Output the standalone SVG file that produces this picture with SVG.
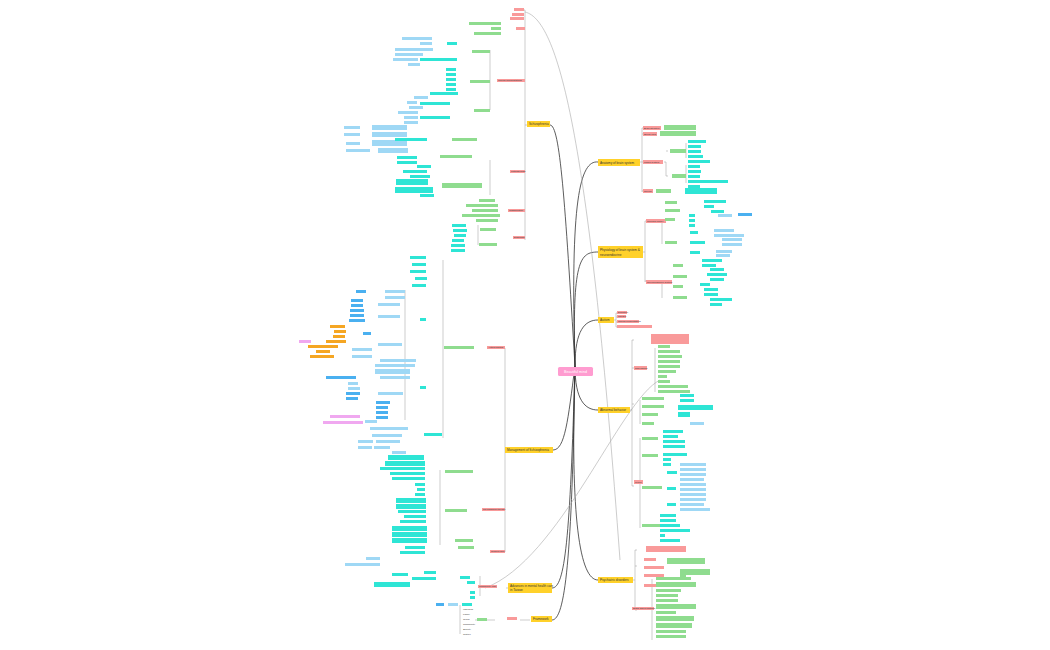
<svg xmlns="http://www.w3.org/2000/svg" width="1050" height="650" viewBox="0 0 1050 650">
<style>
text{font-family:"Liberation Sans",Arial,sans-serif;font-size:2.4px;fill:#333}
.y rect{fill:#ffd12a}.y text{font-size:3.1px}
.r{fill:#f99a9a}.g{fill:#8fdc8f}.c{fill:#2ee5d5}.b{fill:#9fd8f5}.o{fill:#f5a623}.p{fill:#f0a8f0}.bl{fill:#4ab0f0}
.main{fill:none;stroke:#333;stroke-width:0.8}
.br{fill:none;stroke:#999;stroke-width:0.5}
.thin{fill:none;stroke:#aaa;stroke-width:0.6}
</style>
<rect width="1050" height="650" fill="#fff"/>
<g id="connectors">
<path class="main" d="M575 366 C570 200 580 160 598 162"/>
<path class="main" d="M575 366 C572 260 580 252 598 252"/>
<path class="main" d="M575 366 C575 330 585 320 598 320"/>
<path class="main" d="M575 366 C575 400 585 410 598 410"/>
<path class="main" d="M575 366 C570 520 580 580 598 580"/>
<path class="main" d="M575 366 C565 200 560 125 550 125"/>
<path class="main" d="M575 366 C568 420 565 450 553 450"/>
<path class="main" d="M575 366 C570 540 565 588 552 588"/>
<path class="main" d="M575 366 C572 560 565 620 552 620"/>
<path class="thin" d="M525 12 C560 20 590 150 620 560"/>
<path class="thin" d="M485 588 C560 560 620 400 660 380"/>
<path class="br" d="M640 162 h2 M642 128 V192 M642 128 h2 M642 134 h2 M642 162 h2 M642 191 h2"/>
<path class="br" d="M666 162 V176 M664 162 h2 M666 151 h2 M666 176 h2 M686 143 V158 M686 165 V183"/>
<path class="br" d="M643 252 h2 M645 221 V282 M645 221 h2 M645 281 h2 M662 221 V244 M662 282 V298"/>
<path class="br" d="M614 320 h2 M616 313 V327 M616 313 h2 M616 317 h2 M616 322 h2 M616 327 h2"/>
<path class="br" d="M630 410 h2 M632 340 V486 M632 340 h2 M632 368 h2 M632 404 h2 M632 486 h2 M655 348 V392 M640 400 V424 M640 438 V528"/>
<path class="br" d="M633 580 h2 M635 550 V610 M635 550 h2 M635 566 h2 M635 610 h2 M652 579 V640"/>
<path class="br" d="M525 10 V240 M525 125 h3 M522 10 h3 M522 80 h3 M522 172 h3 M522 211 h3 M522 237 h3 M490 50 V110 M490 160 V195 M478 225 V245"/>
<path class="br" d="M505 448 h3 M505 348 V552 M502 348 h3 M502 510 h3 M502 552 h3 M443 260 V438 M440 470 V545 M405 290 V420"/>
<path class="br" d="M506 588 h4 M480 576 V596"/>
<path class="br" d="M520 620 h10 M475 620 h20 M460 605 V634"/>
</g>

<g id="center"><rect x="558" y="367" width="35" height="9" rx="1.5" fill="#ff9cd0"/><text x="575.5" y="373" text-anchor="middle" style="font-size:3.6px;fill:#fff">Beautiful mind</text></g>

<g id="anatomy" class="y"><rect x="598" y="159" width="42" height="7"/><text x="600" y="163.8">Anatomy of brain system</text></g>
<g id="physiology" class="y"><rect x="598" y="246" width="45" height="12"/><text x="600" y="251">Physiology of brain system &amp;</text><text x="600" y="256">neuroendocrine</text></g>
<g id="autism" class="y"><rect x="598" y="317" width="16" height="6"/><text x="600" y="321.2">Autism</text></g>
<g id="abnormal" class="y"><rect x="598" y="407" width="32" height="6"/><text x="600" y="411.2">Abnormal behavior</text></g>
<g id="psychiatric" class="y"><rect x="598" y="577" width="35" height="6"/><text x="600" y="581.2">Psychiatric disorders</text></g>
<g id="schizophrenia" class="y"><rect x="527" y="121" width="23" height="6"/><text x="529" y="125.2">Schizophrenia</text></g>
<g id="management" class="y"><rect x="505" y="447" width="48" height="6"/><text x="507" y="451.2">Management of Schizophrenia</text></g>
<g id="advances" class="y"><rect x="508" y="583" width="44" height="10"/><text x="510" y="587">Advances in mental health care</text><text x="510" y="591">in Taiwan</text></g>
<g id="framework" class="y"><rect x="531" y="616" width="21" height="6"/><text x="533" y="620.2">Framework</text></g>

<g id="anatomy-leaves">
<rect class="r" x="643" y="126" width="18" height="4"/><rect class="r" x="643" y="132" width="14" height="4"/><rect class="r" x="643" y="160" width="20" height="4"/><rect class="r" x="643" y="189" width="10" height="4"/>
<rect class="g" x="664" y="125" width="32" height="5"/><rect class="g" x="660" y="131" width="36" height="5"/><rect class="g" x="670" y="149" width="16" height="4"/><rect class="g" x="672" y="174" width="14" height="4"/><rect class="g" x="656" y="189" width="15" height="4"/>
<rect class="c" x="688" y="140" width="18" height="3"/><rect class="c" x="688" y="145" width="13" height="3"/><rect class="c" x="688" y="150" width="13" height="3"/><rect class="c" x="688" y="155" width="15" height="3"/><rect class="c" x="688" y="160" width="22" height="3"/>
<rect class="c" x="688" y="165" width="12" height="3"/><rect class="c" x="688" y="170" width="13" height="3"/><rect class="c" x="688" y="175" width="12" height="3"/><rect class="c" x="688" y="180" width="40" height="3"/><rect class="c" x="688" y="185" width="12" height="3"/>
<rect class="c" x="685" y="188" width="32" height="6"/>
<text x="644" y="128.8">Brain structure</text><text x="644" y="134.8">Spinal cord</text><text x="644" y="162.8">Limbic system</text><text x="644" y="191.8">Neuron</text>
</g>

<g id="physiology-leaves">
<rect class="r" x="646" y="219" width="20" height="4"/><rect class="r" x="646" y="280" width="26" height="4"/>
<rect class="g" x="665" y="201" width="12" height="3"/><rect class="g" x="665" y="209" width="15" height="3"/><rect class="g" x="665" y="218" width="10" height="3"/><rect class="g" x="665" y="241" width="12" height="3"/>
<rect class="g" x="673" y="264" width="10" height="3"/><rect class="g" x="673" y="275" width="14" height="3"/><rect class="g" x="673" y="285" width="10" height="3"/><rect class="g" x="673" y="296" width="14" height="3"/>
<rect class="c" x="704" y="200" width="22" height="3"/><rect class="c" x="704" y="205" width="10" height="3"/><rect class="c" x="711" y="210" width="13" height="3"/><rect class="c" x="689" y="214" width="6" height="3"/><rect class="b" x="718" y="214" width="14" height="3"/><rect class="bl" x="738" y="213" width="14" height="3"/>
<rect class="c" x="689" y="219" width="6" height="3"/><rect class="c" x="689" y="224" width="6" height="3"/>
<rect class="c" x="690" y="231" width="8" height="3"/><rect class="c" x="690" y="241" width="15" height="3"/><rect class="c" x="690" y="251" width="10" height="3"/>
<rect class="b" x="714" y="229" width="20" height="3"/><rect class="b" x="714" y="234" width="30" height="3"/><rect class="b" x="722" y="238" width="20" height="3"/><rect class="b" x="722" y="243" width="20" height="3"/><rect class="b" x="716" y="250" width="16" height="3"/><rect class="b" x="716" y="254" width="14" height="3"/>
<rect class="c" x="702" y="259" width="20" height="3"/><rect class="c" x="702" y="264" width="14" height="3"/><rect class="c" x="710" y="268" width="14" height="3"/><rect class="c" x="707" y="273" width="20" height="3"/><rect class="c" x="710" y="278" width="14" height="3"/>
<rect class="c" x="700" y="283" width="10" height="3"/><rect class="c" x="704" y="288" width="14" height="3"/><rect class="c" x="704" y="293" width="14" height="3"/><rect class="c" x="710" y="298" width="22" height="3"/><rect class="c" x="710" y="303" width="12" height="3"/>
<text x="647" y="221.8">Cerebral cortex</text><text x="647" y="282.8">Neuroendocrine system</text>
</g>

<g id="autism-leaves">
<rect class="r" x="617" y="311" width="10" height="3"/><rect class="r" x="617" y="315" width="9" height="3"/><rect class="r" x="617" y="320" width="22" height="3"/><rect class="r" x="617" y="325" width="35" height="3"/>
<text x="618" y="313.4">Definition</text><text x="618" y="317.4">Causes</text><text x="618" y="322.4">Clinical presentations</text>
</g>

<g id="abnormal-leaves">
<rect class="r" x="651" y="334" width="38" height="10"/><rect class="r" x="634" y="366" width="13" height="4"/><rect class="r" x="634" y="480" width="9" height="4"/>
<rect class="g" x="658" y="345" width="12" height="3"/><rect class="g" x="658" y="350" width="22" height="3"/><rect class="g" x="658" y="355" width="24" height="3"/><rect class="g" x="658" y="360" width="22" height="3"/><rect class="g" x="658" y="365" width="22" height="3"/><rect class="g" x="658" y="370" width="18" height="3"/>
<rect class="g" x="658" y="375" width="9" height="3"/><rect class="g" x="658" y="380" width="12" height="3"/><rect class="g" x="658" y="385" width="30" height="3"/><rect class="g" x="658" y="390" width="32" height="3"/>
<rect class="g" x="642" y="397" width="22" height="3"/><rect class="g" x="642" y="405" width="22" height="3"/><rect class="g" x="642" y="413" width="16" height="3"/><rect class="g" x="642" y="422" width="12" height="3"/>
<rect class="g" x="642" y="437" width="16" height="3"/><rect class="g" x="642" y="454" width="16" height="3"/><rect class="g" x="642" y="486" width="20" height="3"/><rect class="g" x="642" y="524" width="18" height="3"/>
<rect class="c" x="680" y="394" width="14" height="3"/><rect class="c" x="680" y="399" width="14" height="3"/><rect class="c" x="678" y="405" width="35" height="5"/><rect class="c" x="678" y="412" width="12" height="5"/><rect class="b" x="690" y="422" width="14" height="3"/>
<rect class="c" x="663" y="430" width="20" height="3"/><rect class="c" x="663" y="435" width="15" height="3"/><rect class="c" x="663" y="440" width="22" height="3"/><rect class="c" x="663" y="445" width="22" height="3"/>
<rect class="c" x="663" y="453" width="24" height="3"/><rect class="c" x="663" y="458" width="8" height="3"/><rect class="c" x="663" y="463" width="8" height="3"/>
<rect class="c" x="667" y="471" width="10" height="3"/><rect class="c" x="667" y="487" width="9" height="3"/><rect class="c" x="667" y="503" width="9" height="3"/>
<rect class="b" x="680" y="463" width="26" height="3"/><rect class="b" x="680" y="468" width="26" height="3"/><rect class="b" x="680" y="473" width="26" height="3"/><rect class="b" x="680" y="478" width="24" height="3"/><rect class="b" x="680" y="483" width="26" height="3"/><rect class="b" x="680" y="488" width="26" height="3"/><rect class="b" x="680" y="493" width="26" height="3"/><rect class="b" x="680" y="498" width="26" height="3"/><rect class="b" x="680" y="503" width="24" height="3"/><rect class="b" x="680" y="508" width="30" height="3"/>
<rect class="c" x="660" y="514" width="16" height="3"/><rect class="c" x="660" y="519" width="16" height="3"/><rect class="c" x="660" y="524" width="20" height="3"/><rect class="c" x="660" y="529" width="30" height="3"/><rect class="c" x="660" y="534" width="5" height="3"/><rect class="c" x="660" y="539" width="20" height="3"/>
<text x="635" y="368.8">Risk factors</text><text x="635" y="482.8">Types</text>
</g>

<g id="psychiatric-leaves">
<rect class="r" x="646" y="546" width="40" height="6"/><rect class="r" x="644" y="558" width="12" height="3"/><rect class="r" x="644" y="566" width="20" height="3"/><rect class="r" x="644" y="574" width="20" height="3"/><rect class="r" x="644" y="584" width="15" height="3"/><rect class="r" x="632" y="607" width="22" height="3"/>
<rect class="g" x="667" y="558" width="38" height="6"/><rect class="g" x="680" y="569" width="30" height="6"/><rect class="g" x="680" y="575" width="6" height="3"/>
<rect class="g" x="656" y="577" width="35" height="3"/><rect class="g" x="656" y="582" width="40" height="5"/><rect class="g" x="656" y="589" width="25" height="3"/><rect class="g" x="656" y="594" width="22" height="3"/><rect class="g" x="656" y="599" width="22" height="3"/><rect class="g" x="656" y="604" width="40" height="5"/>
<rect class="g" x="656" y="611" width="20" height="3"/><rect class="g" x="656" y="616" width="38" height="5"/><rect class="g" x="656" y="623" width="36" height="5"/><rect class="g" x="656" y="630" width="30" height="3"/><rect class="g" x="656" y="635" width="30" height="3"/>
<text x="633" y="609.4">Signs and symptoms</text>
</g>

<g id="schizophrenia-leaves">
<rect class="r" x="514" y="8" width="10" height="3"/><rect class="r" x="512" y="13" width="12" height="3"/><rect class="r" x="510" y="17" width="14" height="3"/>
<rect class="g" x="469" y="22" width="32" height="3"/><rect class="g" x="491" y="27" width="10" height="3"/><rect class="g" x="474" y="32" width="27" height="3"/><rect class="r" x="516" y="27" width="9" height="3"/>
<rect class="g" x="472" y="50" width="18" height="3"/><rect class="g" x="470" y="80" width="20" height="3"/><rect class="g" x="474" y="109" width="16" height="3"/><rect class="r" x="497" y="79" width="28" height="3"/>
<rect class="c" x="447" y="42" width="10" height="3"/><rect class="c" x="420" y="58" width="37" height="3"/><rect class="c" x="446" y="68" width="10" height="3"/><rect class="c" x="446" y="73" width="10" height="3"/><rect class="c" x="446" y="78" width="10" height="3"/><rect class="c" x="446" y="83" width="10" height="3"/><rect class="c" x="446" y="88" width="10" height="3"/><rect class="c" x="430" y="92" width="28" height="3"/>
<rect class="c" x="420" y="102" width="30" height="3"/><rect class="c" x="420" y="116" width="30" height="3"/>
<rect class="b" x="402" y="37" width="30" height="3"/><rect class="b" x="420" y="42" width="12" height="3"/><rect class="b" x="395" y="48" width="38" height="3"/><rect class="b" x="395" y="53" width="28" height="3"/><rect class="b" x="393" y="58" width="25" height="3"/><rect class="b" x="408" y="63" width="12" height="3"/>
<rect class="b" x="414" y="96" width="14" height="3"/><rect class="b" x="407" y="101" width="10" height="3"/><rect class="b" x="409" y="106" width="14" height="3"/><rect class="b" x="398" y="111" width="20" height="3"/><rect class="b" x="404" y="116" width="14" height="3"/><rect class="b" x="404" y="121" width="14" height="3"/>
<rect class="b" x="344" y="126" width="16" height="3"/><rect class="b" x="372" y="125" width="35" height="5"/><rect class="b" x="344" y="133" width="16" height="3"/><rect class="b" x="372" y="132" width="35" height="5"/><rect class="b" x="346" y="142" width="14" height="3"/><rect class="b" x="372" y="140" width="35" height="6"/><rect class="b" x="346" y="149" width="24" height="3"/><rect class="b" x="378" y="148" width="30" height="5"/>
<rect class="g" x="452" y="138" width="25" height="3"/><rect class="g" x="440" y="155" width="32" height="3"/><rect class="g" x="442" y="183" width="40" height="5"/><rect class="r" x="510" y="170" width="15" height="3"/>
<rect class="c" x="395" y="138" width="32" height="3"/><rect class="c" x="397" y="156" width="20" height="3"/><rect class="c" x="397" y="161" width="20" height="3"/><rect class="c" x="417" y="165" width="14" height="3"/><rect class="c" x="403" y="170" width="24" height="3"/><rect class="c" x="410" y="175" width="20" height="3"/><rect class="c" x="396" y="179" width="32" height="6"/><rect class="c" x="395" y="187" width="38" height="6"/><rect class="c" x="420" y="194" width="14" height="3"/>
<rect class="g" x="479" y="199" width="16" height="3"/><rect class="g" x="466" y="204" width="32" height="3"/><rect class="g" x="472" y="209" width="26" height="3"/><rect class="g" x="462" y="214" width="38" height="3"/><rect class="g" x="476" y="219" width="22" height="3"/><rect class="r" x="508" y="209" width="17" height="3"/>
<rect class="g" x="480" y="228" width="16" height="3"/><rect class="g" x="479" y="243" width="18" height="3"/><rect class="r" x="513" y="236" width="12" height="3"/>
<rect class="c" x="452" y="224" width="14" height="3"/><rect class="c" x="453" y="229" width="14" height="3"/><rect class="c" x="454" y="234" width="12" height="3"/><rect class="c" x="452" y="239" width="12" height="3"/><rect class="c" x="451" y="244" width="14" height="3"/><rect class="c" x="451" y="249" width="14" height="3"/>
<text x="498" y="81.4">Clinical manifestations</text><text x="511" y="172.4">Pathogenesis</text><text x="509" y="211.4">Classification</text><text x="514" y="238.4">Diagnosis</text>
</g>

<g id="management-leaves">
<rect class="r" x="487" y="346" width="18" height="3"/><rect class="r" x="482" y="508" width="23" height="3"/><rect class="r" x="490" y="550" width="15" height="3"/>
<rect class="g" x="444" y="346" width="30" height="3"/><rect class="g" x="445" y="470" width="28" height="3"/><rect class="g" x="445" y="509" width="22" height="3"/><rect class="g" x="455" y="539" width="18" height="3"/><rect class="g" x="458" y="546" width="16" height="3"/>
<rect class="c" x="410" y="256" width="16" height="3"/><rect class="c" x="412" y="263" width="14" height="3"/><rect class="c" x="410" y="270" width="16" height="3"/><rect class="c" x="415" y="277" width="12" height="3"/><rect class="c" x="412" y="284" width="14" height="3"/><rect class="c" x="420" y="318" width="6" height="3"/><rect class="c" x="420" y="386" width="6" height="3"/>
<rect class="b" x="385" y="290" width="20" height="3"/><rect class="b" x="385" y="296" width="20" height="3"/><rect class="b" x="378" y="303" width="22" height="3"/><rect class="b" x="378" y="315" width="22" height="3"/><rect class="b" x="378" y="343" width="24" height="3"/>
<rect class="bl" x="356" y="290" width="10" height="3"/><rect class="bl" x="351" y="299" width="12" height="3"/><rect class="bl" x="351" y="304" width="12" height="3"/><rect class="bl" x="350" y="309" width="14" height="3"/><rect class="bl" x="350" y="314" width="14" height="3"/><rect class="bl" x="349" y="319" width="16" height="3"/><rect class="bl" x="363" y="332" width="8" height="3"/>
<rect class="o" x="330" y="325" width="15" height="3"/><rect class="o" x="334" y="330" width="12" height="3"/><rect class="o" x="333" y="335" width="12" height="3"/><rect class="o" x="326" y="340" width="20" height="3"/><rect class="o" x="308" y="345" width="30" height="3"/><rect class="o" x="316" y="350" width="14" height="3"/><rect class="o" x="310" y="355" width="24" height="3"/><rect class="p" x="299" y="340" width="12" height="3"/>
<rect class="b" x="352" y="348" width="20" height="3"/><rect class="b" x="352" y="355" width="20" height="3"/>
<rect class="b" x="380" y="359" width="36" height="3"/><rect class="b" x="375" y="364" width="40" height="3"/><rect class="b" x="375" y="369" width="35" height="5"/><rect class="b" x="380" y="376" width="30" height="3"/>
<rect class="bl" x="326" y="376" width="30" height="3"/><rect class="b" x="348" y="382" width="10" height="3"/><rect class="b" x="348" y="387" width="12" height="3"/><rect class="bl" x="346" y="392" width="14" height="3"/><rect class="bl" x="346" y="397" width="12" height="3"/><rect class="b" x="378" y="392" width="25" height="3"/>
<rect class="bl" x="376" y="401" width="14" height="3"/><rect class="bl" x="376" y="406" width="12" height="3"/><rect class="bl" x="376" y="411" width="12" height="3"/><rect class="bl" x="376" y="416" width="12" height="3"/><rect class="p" x="330" y="415" width="30" height="3"/><rect class="p" x="323" y="421" width="40" height="3"/><rect class="b" x="365" y="420" width="12" height="3"/>
<rect class="c" x="424" y="433" width="18" height="3"/><rect class="b" x="370" y="427" width="38" height="3"/><rect class="b" x="372" y="434" width="30" height="3"/><rect class="b" x="358" y="440" width="15" height="3"/><rect class="b" x="376" y="440" width="24" height="3"/><rect class="b" x="358" y="446" width="14" height="3"/><rect class="b" x="374" y="446" width="16" height="3"/><rect class="b" x="392" y="451" width="14" height="3"/>
<rect class="c" x="388" y="455" width="36" height="5"/><rect class="c" x="385" y="461" width="40" height="5"/><rect class="c" x="380" y="467" width="45" height="3"/><rect class="c" x="390" y="472" width="35" height="3"/><rect class="c" x="392" y="477" width="33" height="3"/><rect class="c" x="415" y="483" width="10" height="3"/><rect class="c" x="417" y="488" width="8" height="3"/><rect class="c" x="415" y="493" width="10" height="3"/><rect class="c" x="396" y="498" width="30" height="5"/><rect class="c" x="396" y="504" width="30" height="5"/>
<rect class="c" x="398" y="510" width="28" height="3"/><rect class="c" x="404" y="515" width="22" height="3"/><rect class="c" x="400" y="520" width="26" height="3"/><rect class="c" x="392" y="526" width="35" height="5"/><rect class="c" x="392" y="532" width="35" height="5"/><rect class="c" x="392" y="538" width="35" height="5"/><rect class="c" x="405" y="546" width="20" height="3"/><rect class="c" x="400" y="551" width="25" height="3"/>
<text x="488" y="348.4">Antipsychotics</text><text x="483" y="510.4">Psychosocial therapy</text><text x="491" y="552.4">Nursing care</text>
</g>

<g id="advances-leaves">
<rect class="r" x="478" y="585" width="19" height="3"/><rect class="c" x="460" y="576" width="10" height="3"/><rect class="c" x="467" y="581" width="8" height="3"/><rect class="c" x="470" y="591" width="5" height="3"/><rect class="c" x="470" y="596" width="5" height="3"/>
<rect class="c" x="424" y="571" width="12" height="3"/><rect class="c" x="412" y="577" width="24" height="3"/><rect class="c" x="374" y="582" width="36" height="5"/><rect class="c" x="392" y="573" width="16" height="3"/><rect class="b" x="366" y="557" width="14" height="3"/><rect class="b" x="345" y="563" width="35" height="3"/>
<text x="479" y="587.4">Community care</text>
</g>

<g id="framework-leaves">
<rect class="r" x="507" y="617" width="10" height="3"/><rect class="g" x="477" y="618" width="10" height="3"/>
<rect class="b" x="448" y="603" width="10" height="3"/><rect class="bl" x="436" y="603" width="8" height="3"/><rect class="c" x="462" y="603" width="10" height="3"/>
<text x="463" y="610">Individual</text><text x="463" y="615">Family</text><text x="463" y="620">Group</text><text x="463" y="625">Community</text><text x="463" y="630">Society</text><text x="463" y="635">Culture</text>
</g>
</svg>
